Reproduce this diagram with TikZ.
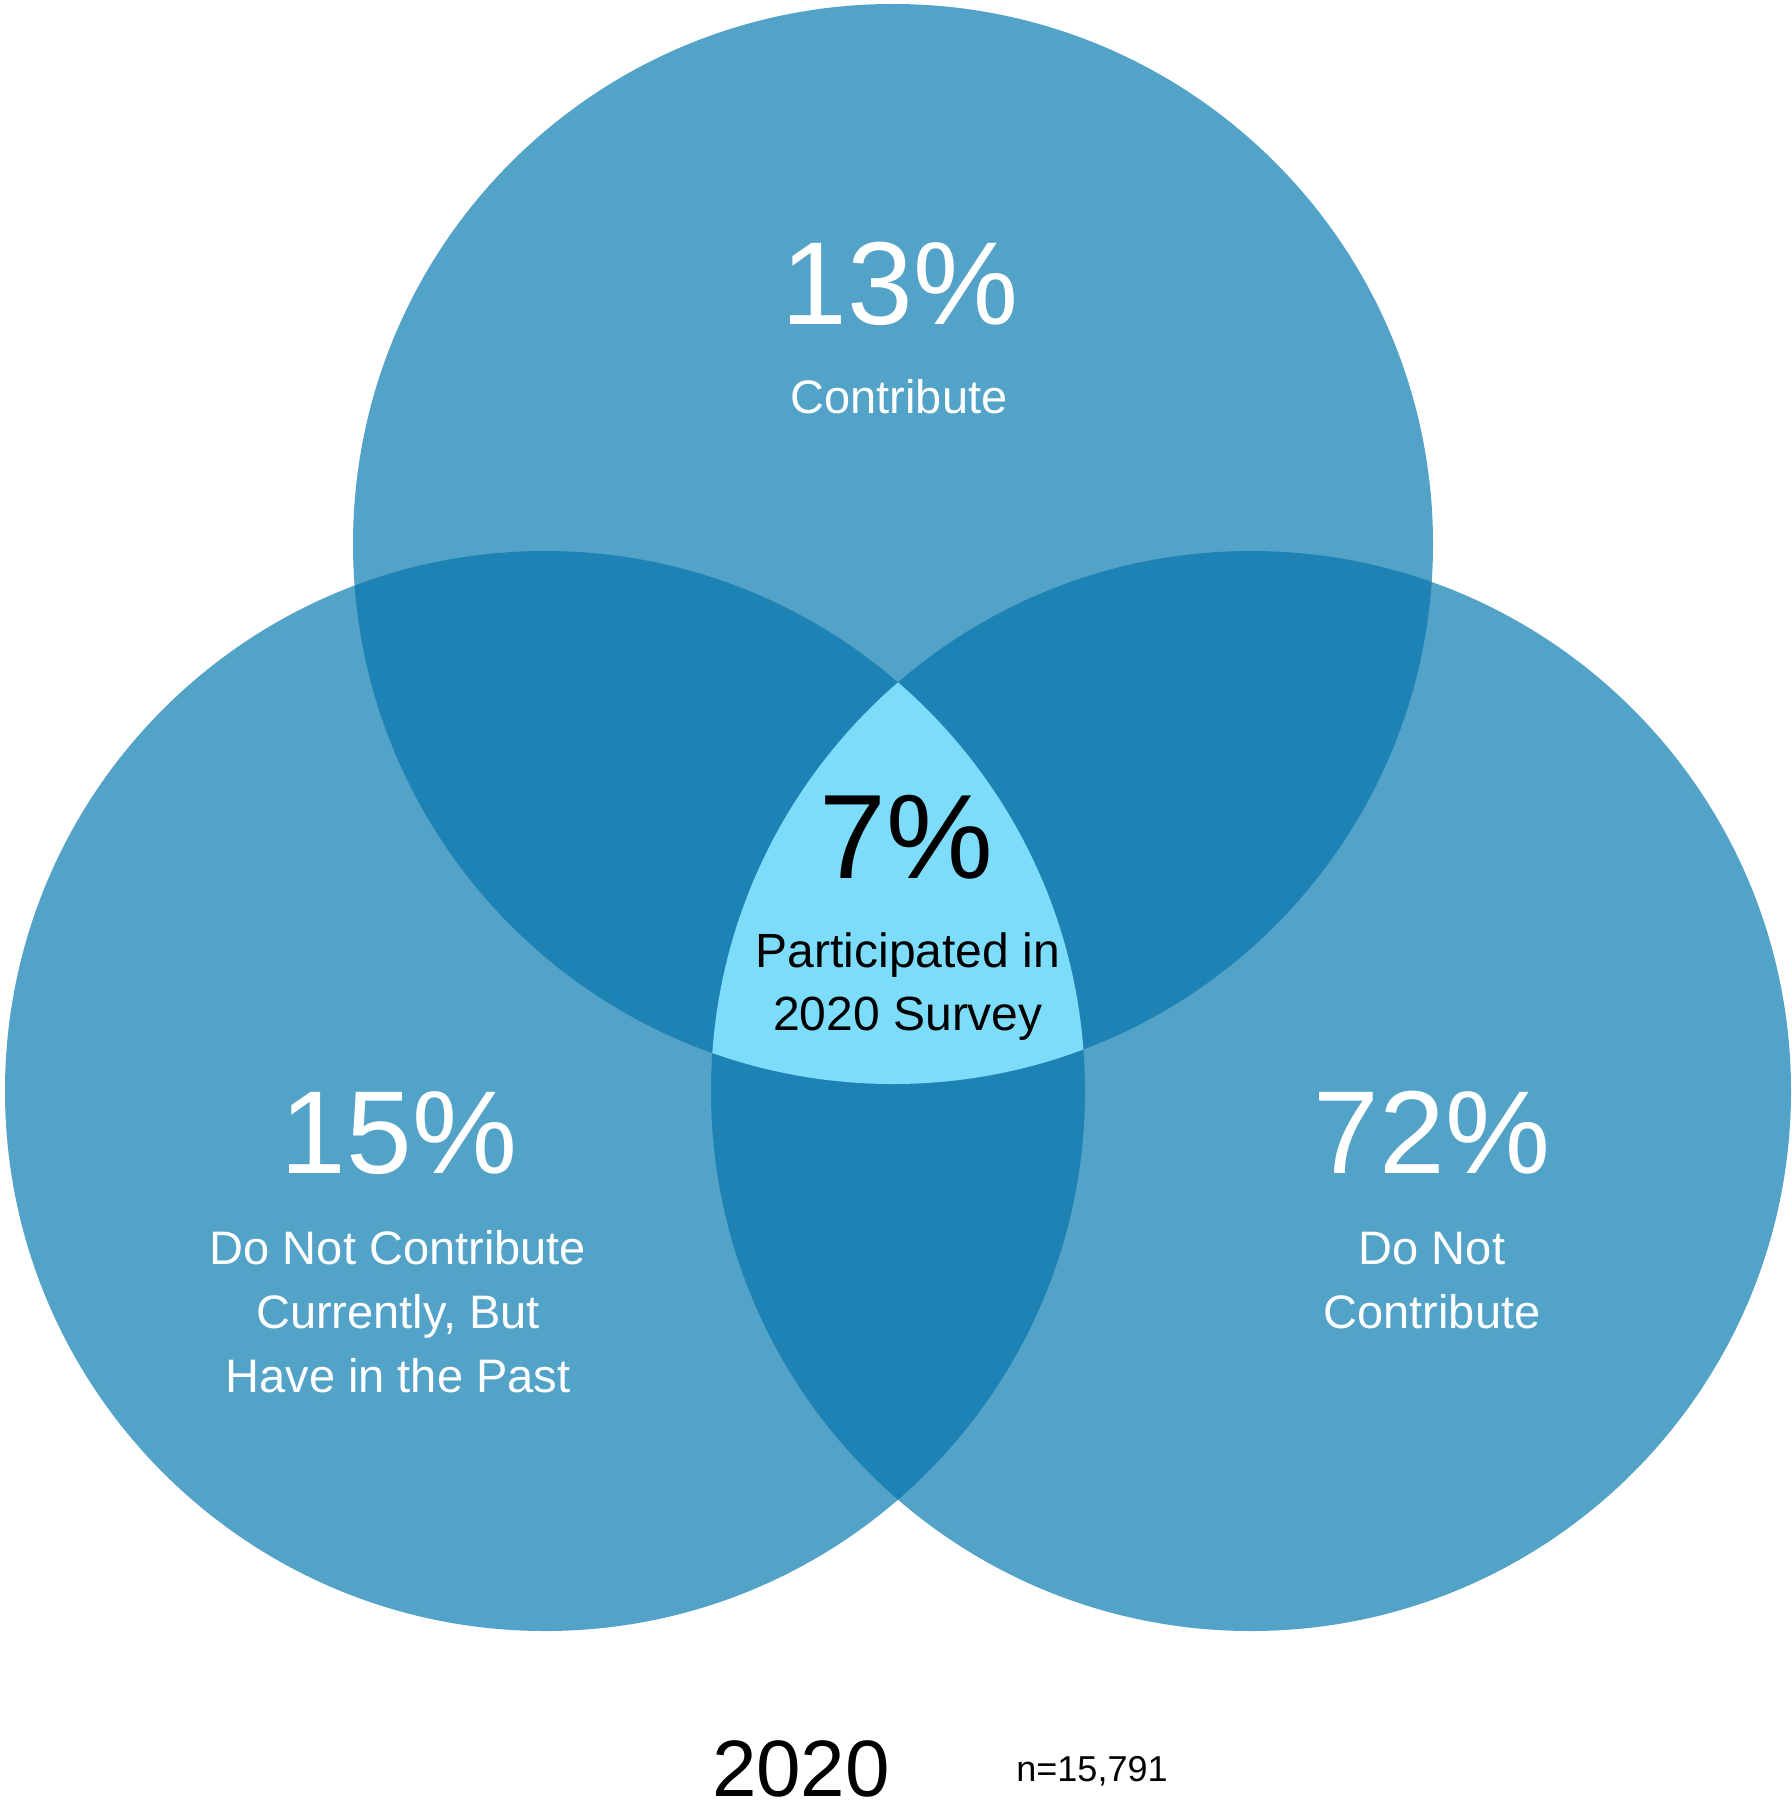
\documentclass[tikz,border=0pt]{standalone}
\usepackage{fontspec}
\setmainfont{Liberation Sans}
\usetikzlibrary{positioning}
\definecolor{vennlight}{HTML}{53A2C8}
\definecolor{venndark}{HTML}{1E83B4}
\definecolor{venncore}{HTML}{7DDCFA}

\begin{document}
\begin{tikzpicture}[
      x=0.5pt, y=-0.5pt,
      pct/.style={anchor=base, text=white, inner sep=0pt,
        font=\fontsize{59}{59}\selectfont},
      lbl/.style={anchor=base, text=white, inner sep=0pt, align=center,
        font=\fontsize{23.5}{32}\selectfont},
      core/.style={anchor=base, text=black, inner sep=0pt, align=center}
    ]
      \useasboundingbox (0,0) rectangle (1792,1803);
      \coordinate (ctop) at (893,544);
      \coordinate (cleft) at (545,1091);
      \coordinate (cright) at (1251,1091);

      % the three circles
      \fill[vennlight] (ctop) circle[radius=270pt];
      \fill[vennlight] (cleft) circle[radius=270pt];
      \fill[vennlight] (cright) circle[radius=270pt];

      % pairwise overlaps
      \begin{scope}
        \clip (ctop) circle[radius=270pt];
        \fill[venndark] (cleft) circle[radius=270pt];
        \fill[venndark] (cright) circle[radius=270pt];
      \end{scope}
      \begin{scope}
        \clip (cleft) circle[radius=270pt];
        \fill[venndark] (cright) circle[radius=270pt];
      \end{scope}

      % all three
      \begin{scope}
        \clip (ctop) circle[radius=270pt];
        \clip (cleft) circle[radius=270pt];
        \fill[venncore] (cright) circle[radius=270pt];
      \end{scope}

      % base anchor of a multi-line node sits on its last line
      \node[pct] (ptop) at (900,324) {13\%};
      \node[lbl] (ltop) at (899,413) {Contribute};

      \node[pct] (pleft) at (399,1173) {15\%};
      \node[lbl] (lleft) at (398,1392) {Do Not Contribute\\Currently, But\\Have in the Past};

      \node[pct] (pright) at (1432,1173) {72\%};
      \node[lbl] (lright) at (1432,1328) {Do Not\\Contribute};

      \node[core, font=\fontsize{60}{60}\selectfont] (pcore) at (906,878) {7\%};
      \node[core, font=\fontsize{24}{31.5}\selectfont] (lcore) at (908,1030) {Participated in\\2020 Survey};

      \node[anchor=base, inner sep=0pt, font=\fontsize{40}{40}\selectfont] (year) at (801,1796) {2020};
      \node[anchor=base, inner sep=0pt, font=\fontsize{18}{18}\selectfont] (count) at (1092,1781) {n=15,791};
    \end{tikzpicture}
\end{document}
